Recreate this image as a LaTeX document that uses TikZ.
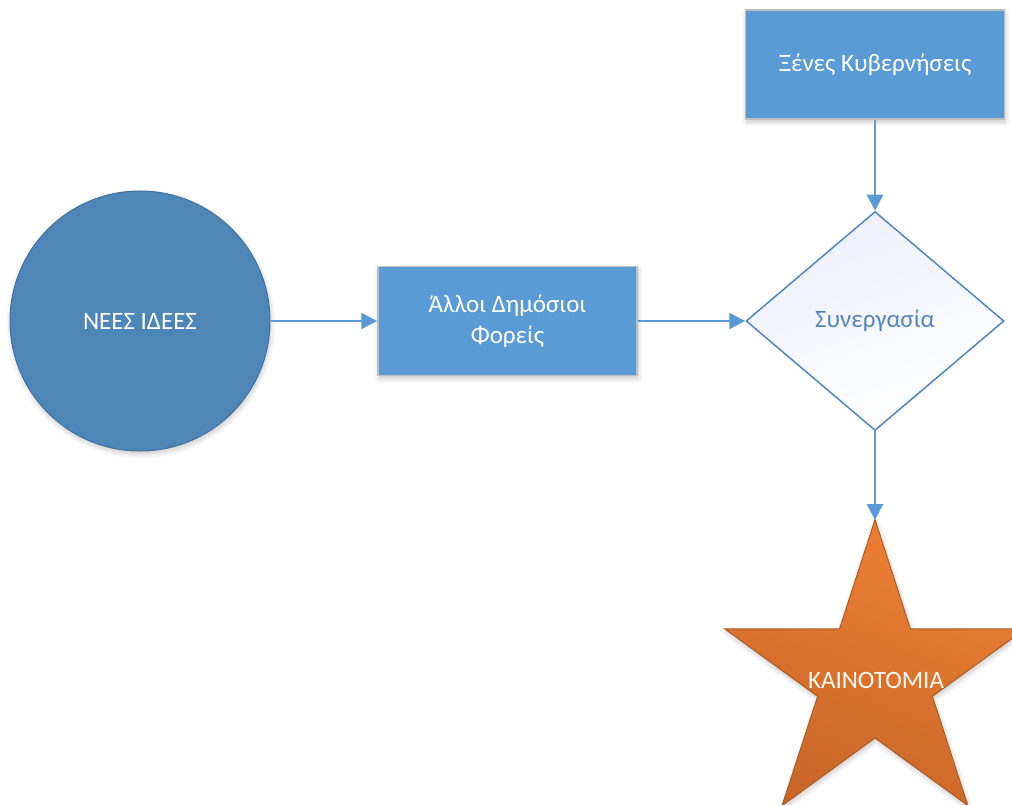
\documentclass[tikz,border=0pt]{standalone}
\usepackage{fontspec}
\setmainfont{Carlito}
\usetikzlibrary{shapes.geometric,arrows.meta,shadows.blur}
\definecolor{boxblue}{HTML}{5B9BD5}
\definecolor{circblue}{HTML}{4E86B8}
\definecolor{circedge}{HTML}{41719C}
\definecolor{boxedge}{HTML}{BFBFBF}
\definecolor{diaedge}{HTML}{4F87BE}
\definecolor{diatext}{HTML}{5585BE}
\definecolor{diafill}{HTML}{ECEFF9}
\definecolor{startop}{HTML}{EE8033}
\definecolor{starbot}{HTML}{C9662A}
\definecolor{staredge}{HTML}{AE5A21}
\begin{document}
\begin{tikzpicture}[x=1pt,y=-1pt,
  every node/.style={font=\fontsize{25}{31}\selectfont, inner sep=0pt, align=center},
  softshadow/.style={blur shadow={shadow xshift=1pt, shadow yshift=-3pt, shadow blur steps=8, shadow blur radius=5pt, shadow opacity=22}},
  proc/.style={rectangle, fill=boxblue, draw=boxedge, line width=1.5pt, minimum width=259pt, minimum height=109pt, text=white, softshadow},
  ideacirc/.style={circle, fill=circblue, draw=circedge, line width=1pt, minimum size=260pt, text=white, softshadow},
  decision/.style={diamond, draw=diaedge, line width=1.5pt, minimum width=258pt, minimum height=219pt, top color=diafill, bottom color=white, shading angle=20, text=diatext},
  goalshape/.style={draw=staredge, line width=1pt, top color=startop, bottom color=starbot, shading angle=-20, softshadow},
  goaltext/.style={text=white!95!orange},
  link/.style={draw=boxblue, line width=2.5pt, -{Triangle[length=16pt,width=16pt]}}
]
\useasboundingbox (0,0) rectangle (1012,805);
\clip (0,0) rectangle (1012,805);
\node[ideacirc] (idea) at (140,321) {ΝΕΕΣ ΙΔΕΕΣ};
\node[proc] (other) at (507.5,321) {Άλλοι Δημόσιοι\\Φορείς};
\node[proc] (foreign) at (875,64.5) {Ξένες Κυβερνήσεις};
\node[decision] (coop) at (875,321) {Συνεργασία};
% star
\path[goalshape, shift={(875,677.7)}]
  (-90:158) -- (-54:60.35) -- (-18:158) -- (18:60.35) -- (54:158) -- (90:60.35)
  -- (126:158) -- (162:60.35) -- (198:158) -- (234:60.35) -- cycle;
\coordinate (innovtop) at (875,520);
\node[goaltext] (innov) at (876,680) {KAINOTOMIA};
\draw[link] (idea) -- (other);
\draw[link] (other) -- (coop);
\draw[link] (foreign) -- (coop);
\draw[link] (coop) -- (innovtop);
\end{tikzpicture}
\end{document}
